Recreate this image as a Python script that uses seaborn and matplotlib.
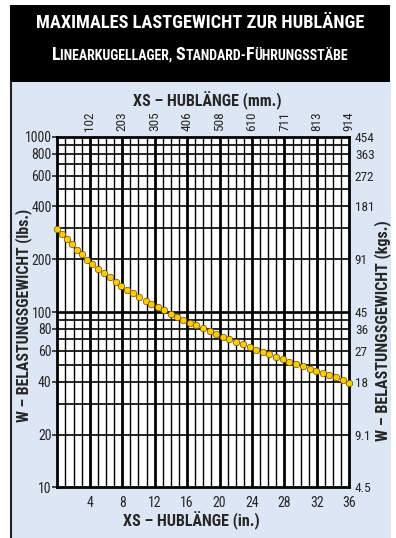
import matplotlib
matplotlib.use('Agg')
import matplotlib.pyplot as plt
import seaborn as sns
import pandas as pd
from matplotlib.patches import Rectangle
from matplotlib.ticker import FixedLocator, NullFormatter

# Werte
hub_in = [0, 0.6, 1.2, 1.8, 2.4, 3.0, 3.7, 4.3, 5.0, 5.7, 6.5, 7.2, 7.9, 8.6, 9.3, 10.1,
          10.9, 11.6, 12.4, 13.2, 14.0, 14.8, 15.5, 16.4, 17.1, 18.0, 18.8, 19.6, 20.4,
          21.2, 22.0, 22.9, 23.7, 24.5, 25.3, 26.1, 27.0, 27.8, 28.6, 29.4, 30.3, 31.1,
          31.9, 32.7, 33.5, 34.4, 35.2, 36.0]
last_lbs = [298, 279, 260, 243, 227, 213, 199, 187, 176, 167, 158, 149, 141, 134, 128, 122,
            116, 111, 107, 102, 98, 94, 90, 87, 84, 81, 78, 75, 72, 70, 67.5, 65.5, 63.5,
            61, 59, 57.3, 55.6, 54, 52, 50.8, 49.3, 47.5, 45.8, 44.7, 43.6, 42.4, 41, 39.5]

x_ticks = [4, 8, 12, 16, 20, 24, 28, 32, 36]
mm_labels = ['102', '203', '305', '406', '508', '610', '711', '813', '914']
y_ticks = [10, 20, 40, 60, 80, 100, 200, 400, 600, 800, 1000]
kg_labels = ['4.5', '9.1', '18', '27', '36', '45', '91', '181', '272', '363', '454']
y_minor = [30, 50, 70, 90, 300, 500, 700, 900]

df = pd.DataFrame({'hub': hub_in, 'last': last_lbs})

sns.set_style('white')
narrow = ['Roboto Condensed', 'DejaVu Sans']
plt.rcParams['font.family'] = narrow

W, H = 396, 538
fig = plt.figure(figsize=(W / 100, H / 100), dpi=100)
fig.patch.set_facecolor('white')

# Kopfzeile und Hintergrund
fig.patches.append(Rectangle((10 / W, 1 - 82 / H), 380 / W, 77 / H, transform=fig.transFigure,
                             facecolor='black', edgecolor='none', zorder=-10))
fig.patches.append(Rectangle((10 / W, 0), 381 / W, 1 - 82 / H, transform=fig.transFigure,
                             facecolor='#dde6f4', edgecolor='none', zorder=-10))
fig.lines.append(plt.Line2D([11 / W, 11 / W], [0, 1 - 82 / H], transform=fig.transFigure,
                            color='#222222', lw=1.5, zorder=-5))

ax = fig.add_axes([57.3 / W, 1 - 487.3 / H, 292 / W, 350.6 / H])
ax.set_facecolor('white')
ax.set_yscale('log')
ax.set_xlim(0, 36)
ax.set_ylim(10, 1000)

# Raster
for i in range(1, 36):
    ax.axvline(i, color='black', lw=2.0 if i % 4 == 0 else 1.0, zorder=1)
for v in y_ticks[1:-1] + y_minor:
    ax.axhline(v, color='black', lw=1.9 if v == 100 else 1.2, zorder=1)
for s in ax.spines.values():
    s.set_linewidth(2)
    s.set_color('black')

sns.scatterplot(data=df, x='hub', y='last', ax=ax, color='#ffcc00', edgecolor='#6b5000',
                linewidth=0.5, s=22, zorder=5, clip_on=False, legend=False)
ax.set_xlabel('')
ax.set_ylabel('')

ax.xaxis.set_major_locator(FixedLocator(x_ticks))
ax.set_xticklabels([str(t) for t in x_ticks])
ax.yaxis.set_major_locator(FixedLocator(y_ticks))
ax.yaxis.set_minor_locator(FixedLocator(y_minor))
ax.yaxis.set_minor_formatter(NullFormatter())
ax.set_yticklabels([str(t) for t in y_ticks])
ax.tick_params(axis='x', length=0, pad=6.5, labelsize=10)
ax.tick_params(axis='y', which='major', length=3.5, width=1.2, pad=0.5, labelsize=10)
ax.tick_params(axis='y', which='minor', length=0)

ax_r = ax.twinx()
ax_r.set_yscale('log')
ax_r.set_ylim(10, 1000)
ax_r.yaxis.set_major_locator(FixedLocator(y_ticks))
ax_r.yaxis.set_minor_locator(FixedLocator([]))
ax_r.set_yticklabels(kg_labels)
ax_r.tick_params(axis='y', length=0, pad=4, labelsize=9.5)
for s in ax_r.spines.values():
    s.set_visible(False)

ax_t = ax.twiny()
ax_t.set_xlim(0, 36)
ax_t.xaxis.set_major_locator(FixedLocator(x_ticks))
ax_t.set_xticklabels(mm_labels, rotation=90)
ax_t.tick_params(axis='x', length=0, pad=4, labelsize=9.5)
for s in ax_t.spines.values():
    s.set_visible(False)

# Achsentitel
fig.text(207 / W, 1 - 106 / H, 'XS – HUBLÄNGE (mm.)', ha='center', va='baseline',
         fontsize=11.5, fontweight='bold')
fig.text(191 / W, 1 - 526 / H, 'XS – HUBLÄNGE (in.)', ha='center', va='baseline',
         fontsize=11.5, fontweight='bold')
fig.text(24 / W, 1 - 315 / H, 'W – BELASTUNGSGEWICHT (lbs.)', ha='center', va='center',
         rotation=90, fontsize=11.4, fontweight='bold')
fig.text(383 / W, 1 - 331 / H, 'W – BELASTUNGSGEWICHT (kgs.)', ha='center', va='center',
         rotation=90, fontsize=11.6, fontweight='bold')

# Überschrift
fig.text(200 / W, 1 - 28.3 / H, 'MAXIMALES LASTGEWICHT ZUR HUBLÄNGE', ha='center', va='baseline',
         color='white', fontsize=13.2, fontweight='bold')

teile = [('L', 13), ('INEARKUGELLAGER, ', 10), ('S', 13), ('TANDARD-', 10),
         ('F', 13), ('ÜHRUNGSSTÄBE', 10)]
renderer = fig.canvas.get_renderer()
texte = []
breite = 0
for t, fs in teile:
    obj = fig.text(0, 1 - 60 / H, t, ha='left', va='baseline', color='white',
                   fontsize=fs, fontweight='bold')
    w = obj.get_window_extent(renderer).width
    texte.append((obj, w))
    breite += w
x0 = 200 - breite / 2
for obj, w in texte:
    obj.set_x(x0 / W)
    x0 += w

fig.savefig('out.png', dpi=100)
